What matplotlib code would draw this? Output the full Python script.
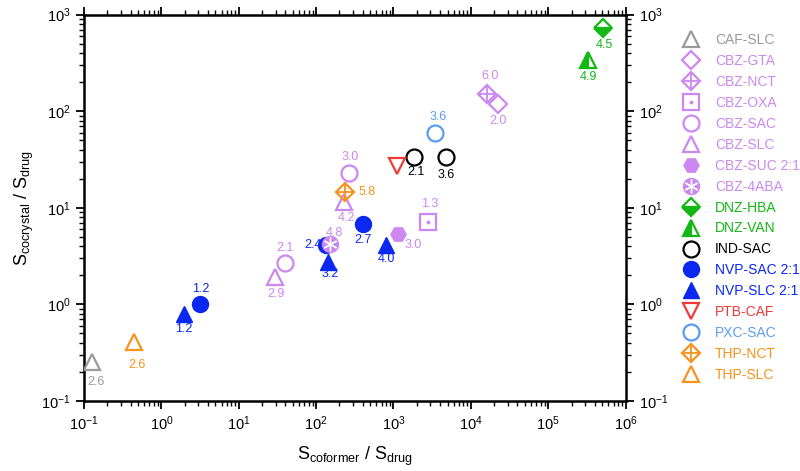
import matplotlib
matplotlib.use('Agg')
import matplotlib.pyplot as plt
from matplotlib.legend_handler import HandlerTuple
from matplotlib.ticker import LogLocator, NullFormatter
import numpy as np

plt.rcParams['font.family'] = ['Liberation Sans', 'DejaVu Sans']
plt.rcParams['mathtext.fontset'] = 'custom'
plt.rcParams['mathtext.rm'] = 'Liberation Sans'
plt.rcParams['mathtext.it'] = 'Liberation Sans:italic'

# series (legend order)
series_names = ['CAF-SLC', 'CBZ-GTA', 'CBZ-NCT', 'CBZ-OXA', 'CBZ-SAC', 'CBZ-SLC',
                'CBZ-SUC 2:1', 'CBZ-4ABA', 'DNZ-HBA', 'DNZ-VAN', 'IND-SAC',
                'NVP-SAC 2:1', 'NVP-SLC 2:1', 'PTB-CAF', 'PXC-SAC', 'THP-NCT', 'THP-SLC']

# data points: series, S_coformer/S_drug, S_cocrystal/S_drug, label
point_series = ['CAF-SLC', 'CBZ-GTA', 'CBZ-NCT', 'CBZ-OXA', 'CBZ-SAC', 'CBZ-SAC',
                'CBZ-SLC', 'CBZ-SLC', 'CBZ-SUC 2:1', 'CBZ-4ABA', 'DNZ-HBA', 'DNZ-VAN',
                'IND-SAC', 'IND-SAC', 'NVP-SAC 2:1', 'NVP-SAC 2:1', 'NVP-SAC 2:1',
                'NVP-SLC 2:1', 'NVP-SLC 2:1', 'NVP-SLC 2:1', 'PTB-CAF', 'PXC-SAC',
                'THP-NCT', 'THP-SLC']
point_x = [0.128, 22540, 15960, 2806, 39.5, 265,
           29.4, 231, 1151, 151, 503000, 328000,
           1853, 4710, 3.16, 134, 406,
           1.96, 143, 798, 1096, 3428,
           236, 0.443]
point_y = [0.254, 118, 151, 7.16, 2.65, 22.8,
           1.93, 11.5, 5.3, 4.18, 733, 340,
           33.3, 33.7, 1.0, 4.1, 6.78,
           0.80, 2.76, 4.1, 27, 59,
           14.7, 0.408]
point_text = ['2.6', '2.0', '6.0', '1.3', '2.1', '3.0',
              '2.9', '4.2', '3.0', '4.8', '4.5', '4.9',
              '2.1', '3.6', '1.2', '2.4', '2.7',
              '1.2', '3.2', '4.0', '', '3.6',
              '5.8', '2.6']
# label offsets in pixels
text_dx = [4, 0, 3, 2, 0, 1,
           1, 2, 15, 4, 2, 0,
           2, 1, 1, -13, 0,
           0, 2, 0, 0, 3,
           22, 3]
text_dy = [-20, -17, 18, 18, 15, 16,
           -17, -16, -11, 11, -17, -17,
           -15, -18, 15, 0, -16,
           -15, -12, -14, 0, 16,
           0, -23]

gray = '#9a9a9a'
violet = '#cc88f0'
green = '#14b814'
blue = '#0a28f0'
red = '#f03a3a'
lblue = '#5c9cf0'
orange = '#f7921c'

# style: color, marker, markersize, fill, overlay marker, overlay size
styles = {
    'CAF-SLC': (gray, '^', 11, 'none', None, 0),
    'CBZ-GTA': (violet, 'D', 9, 'none', None, 0),
    'CBZ-NCT': (violet, 'D', 9, 'none', '+', 12),
    'CBZ-OXA': (violet, 's', 11.5, 'none', '.', 3),
    'CBZ-SAC': (violet, 'o', 11.5, 'none', None, 0),
    'CBZ-SLC': (violet, '^', 11, 'none', None, 0),
    'CBZ-SUC 2:1': (violet, 'H', 11, 'full', None, 0),
    'CBZ-4ABA': (violet, 'o', 11.5, 'full', 'ast', 10),
    'DNZ-HBA': (green, 'D', 9, 'bottom', None, 0),
    'DNZ-VAN': (green, '^', 11, 'left', None, 0),
    'IND-SAC': ('black', 'o', 11.5, 'none', None, 0),
    'NVP-SAC 2:1': (blue, 'o', 11.5, 'full', None, 0),
    'NVP-SLC 2:1': (blue, '^', 11, 'full', None, 0),
    'PTB-CAF': (red, 'v', 11, 'none', None, 0),
    'PXC-SAC': (lblue, 'o', 11.5, 'none', None, 0),
    'THP-NCT': (orange, 'D', 9, 'none', '+', 12),
    'THP-SLC': (orange, '^', 11, 'none', None, 0),
}

fig = plt.figure(figsize=(8, 4.71), dpi=100)
ax = fig.add_axes([0.105, 0.149, 0.677, 0.82])

handles = []
point_series = np.array(point_series)
px = np.array(point_x)
py = np.array(point_y)
for name in series_names:
    c, m, ms, fill, over, oms = styles[name]
    sel = point_series == name
    z = 4 if name == 'CBZ-4ABA' else 3
    if fill == 'none':
        h, = ax.plot(px[sel], py[sel], ls='none', marker=m, ms=ms, mfc='none',
                     mec=c, mew=1.6, zorder=z)
    elif fill == 'full':
        h, = ax.plot(px[sel], py[sel], ls='none', marker=m, ms=ms, mfc=c,
                     mec=c, mew=1.0, zorder=z)
    else:
        h, = ax.plot(px[sel], py[sel], ls='none', marker=m, ms=ms, mfc=c,
                     mec=c, mew=1.6, fillstyle=fill, markerfacecoloralt='white',
                     zorder=z)
    if over is None:
        handles.append(h)
    else:
        if over == 'ast':
            h2, = ax.plot(px[sel], py[sel], ls='none', marker=(6, 2, 0), ms=oms,
                          mec='white', mew=1.0, zorder=z)
        else:
            h2, = ax.plot(px[sel], py[sel], ls='none', marker=over, ms=oms,
                          mec=c, mfc=c, mew=1.3, zorder=z)
        handles.append((h, h2))

for s, x, y, t, dx, dy in zip(point_series, px, py, point_text, text_dx, text_dy):
    if t:
        ax.annotate(t, (x, y), xytext=(dx, dy), textcoords='offset pixels',
                    ha='center', va='center', fontsize=9, color=styles[s][0])

ax.set_xscale('log')
ax.set_yscale('log')
ax.set_xlim(0.1, 1e6)
ax.set_ylim(0.1, 1e3)
ax.xaxis.set_major_locator(LogLocator(base=10, numticks=20))
ax.xaxis.set_minor_locator(LogLocator(base=10, subs=np.arange(2, 10), numticks=100))
ax.yaxis.set_minor_locator(LogLocator(base=10, subs=np.arange(2, 10), numticks=100))
ax.xaxis.set_minor_formatter(NullFormatter())
ax.yaxis.set_minor_formatter(NullFormatter())

for sp in ax.spines.values():
    sp.set_linewidth(1.8)
ax.tick_params(which='both', direction='out', top=True, right=True,
               labelright=True, labelsize=10.5, width=1.3)
ax.tick_params(which='major', length=6)
ax.tick_params(which='minor', length=3.5, width=1.0)

ax.set_xlabel(r'S$_{\rm coformer}$ / S$_{\rm drug}$', fontsize=13, labelpad=9)
ax.set_ylabel(r'S$_{\rm cocrystal}$ / S$_{\rm drug}$', fontsize=13, labelpad=4)

leg = fig.legend(handles, series_names, loc='upper left',
                 bbox_to_anchor=(0.852, 0.93), frameon=False, fontsize=10,
                 handler_map={tuple: HandlerTuple(ndivide=1)},
                 handlelength=1.4, handletextpad=1.0, labelspacing=0.5,
                 borderaxespad=0, borderpad=0)
for txt, name in zip(leg.get_texts(), series_names):
    txt.set_color(styles[name][0])

fig.savefig('out.png', dpi=100)
